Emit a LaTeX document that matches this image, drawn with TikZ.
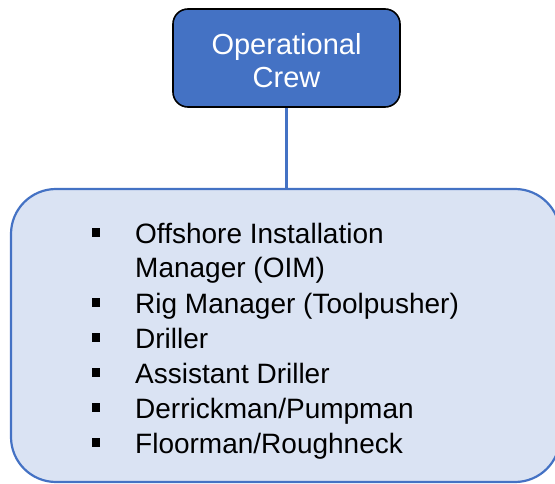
\documentclass[tikz,border=0pt]{standalone}
\usepackage{fontspec}
\setmainfont{Liberation Sans}
\definecolor{accent}{HTML}{4472C4}
\definecolor{panel}{HTML}{DAE3F3}
\begin{document}
\begin{tikzpicture}[x=1pt,y=1pt,
  headbox/.style={draw=black, line width=1.6pt, fill=accent, rounded corners=15pt,
    minimum width=227pt, minimum height=98pt, inner sep=0pt},
  headtext/.style={text=white, font=\fontsize{29}{33}\selectfont, align=center, inner sep=0pt},
  panelbox/.style={draw=accent, line width=2.2pt, fill=panel, rounded corners=45pt,
    minimum width=549pt, minimum height=293pt, inner sep=0pt},
  item/.style={anchor=base west, inner sep=0pt, font=\fontsize{28}{33}\selectfont},
  bulletsq/.style={fill=black, minimum size=8.5pt, inner sep=0pt},
  link/.style={draw=accent, line width=2.8pt}]
\useasboundingbox (0,0) rectangle (555,483);
\begin{scope}
  \clip (0,0) rectangle (555,483);
  \node[panelbox] (crew) at (285.5,147.5) {};
\end{scope}
\node[headbox] (head) at (286.5,425) {};
\node[headtext] (title) at ([yshift=-3pt]head.center) {Operational\\Crew};
\draw[link] (head.south) -- (head.south |- crew.north);
% list
\node[item] (i1) at (135,240) {Offshore Installation};
\node[item] (i1b) at (135,205) {Manager (OIM)};
\node[item] (i2) at (135,170) {Rig Manager (Toolpusher)};
\node[item] (i3) at (135,135) {Driller};
\node[item] (i4) at (135,100) {Assistant Driller};
\node[item] (i5) at (135,65) {Derrickman/Pumpman};
\node[item] (i6) at (135,30) {Floorman/Roughneck};
\node[bulletsq] (b1) at (96,250.5) {};
\node[bulletsq] (b2) at (96,180.5) {};
\node[bulletsq] (b3) at (96,145.5) {};
\node[bulletsq] (b4) at (96,110.5) {};
\node[bulletsq] (b5) at (96,75.5) {};
\node[bulletsq] (b6) at (96,40.5) {};
\end{tikzpicture}
\end{document}
